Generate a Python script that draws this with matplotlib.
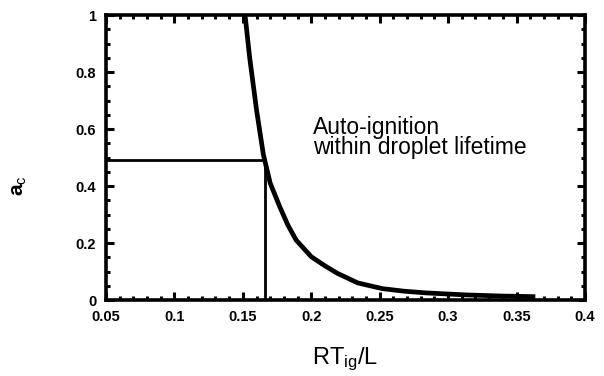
import numpy as np
import matplotlib
matplotlib.use("Agg")
import matplotlib.pyplot as plt

# ==== DATA ==================================================

rt_ig = [0.1516, 0.155, 0.160, 0.165, 0.166, 0.170, 0.177, 0.183, 0.189,
         0.200, 0.210, 0.219, 0.234, 0.252, 0.268, 0.284, 0.313, 0.340, 0.362]
a_c = [1.0, 0.85, 0.667, 0.51, 0.49, 0.41, 0.327, 0.262, 0.21,
       0.152, 0.12, 0.094, 0.060, 0.040, 0.031, 0.025, 0.018, 0.014, 0.012]

# marked point on the curve
x_mark = 0.166
y_mark = 0.49

xticks = [0.05, 0.1, 0.15, 0.2, 0.25, 0.3, 0.35, 0.4]
xticklabels = ["0.05", "0.1", "0.15", "0.2", "0.25", "0.3", "0.35", "0.4"]
yticks = [0, 0.2, 0.4, 0.6, 0.8, 1.0]
yticklabels = ["0", "0.2", "0.4", "0.6", "0.8", "1"]

annotation = "Auto-ignition\nwithin droplet lifetime"

# ============================================================

plt.rcParams["font.family"] = ["Liberation Sans", "DejaVu Sans"]
plt.rcParams["mathtext.fontset"] = "custom"
plt.rcParams["mathtext.rm"] = "Liberation Sans"
plt.rcParams["mathtext.it"] = "Liberation Sans"

fig = plt.figure(figsize=(6.04, 3.76), dpi=100)
ax = fig.add_axes([0.1755, 0.202, 0.793, 0.758])

ax.plot(rt_ig, a_c, color="black", lw=3.4, solid_joinstyle="round")
ax.plot([0.05, x_mark], [y_mark, y_mark], color="black", lw=2)
ax.plot([x_mark, x_mark], [0, y_mark], color="black", lw=2)

ax.text(0.201, 0.645, annotation, fontsize=16.5, va="top", ha="left",
        linespacing=0.8)

ax.set_xlim(0.05, 0.4)
ax.set_ylim(0, 1)
ax.set_xticks(xticks, xticklabels)
ax.set_xticks(np.arange(0.05, 0.4001, 0.01), minor=True)
ax.set_yticks(yticks, yticklabels)
ax.set_yticks(np.arange(0, 1.001, 0.05), minor=True)

ax.tick_params(which="both", direction="in", top=True, right=True,
               width=2.2, labelsize=10.5, pad=7)
ax.tick_params(which="major", length=6)
ax.tick_params(which="minor", length=3)
for lab in ax.get_xticklabels() + ax.get_yticklabels():
    lab.set_fontweight("bold")
for s in ax.spines.values():
    s.set_linewidth(2.6)

ax.set_xlabel(r"RT$_{\rm ig}$/L", fontsize=17, labelpad=16)
ax.set_ylabel(r"a$_{\rm c}$", fontsize=15, fontweight="bold")
ax.yaxis.set_label_coords(-0.16, 0.40)

fig.savefig("out.png", dpi=100)
